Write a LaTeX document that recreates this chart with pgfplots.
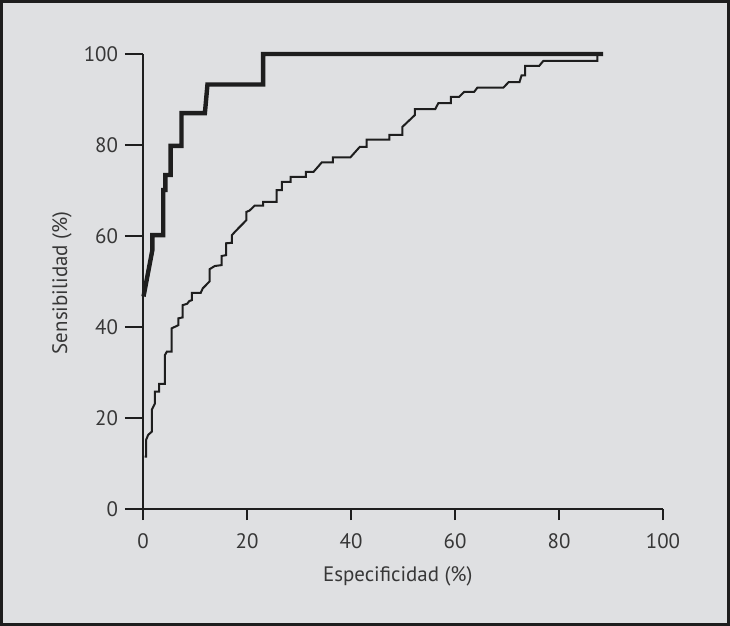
\documentclass[border=0pt]{standalone}
\usepackage{pgfplots}
\pgfplotsset{compat=1.18}
\usepackage{fontspec}
\setmainfont{PT Sans}
\definecolor{bgc}{RGB}{223,224,226}
\definecolor{ink}{RGB}{30,30,30}
\definecolor{txt}{RGB}{55,55,55}

\begin{document}
\begin{tikzpicture}
\useasboundingbox (0,0) rectangle (365bp,313bp);
\fill[bgc] (0,0) rectangle (365bp,313bp);
\draw[ink, line width=1.5bp] (0.75bp,0.75bp) rectangle (364.25bp,312.25bp);
\begin{axis}[
    at={(71.5bp,58.5bp)}, anchor=south west,
    scale only axis, width=260bp, height=227.5bp,
    xmin=0, xmax=100, ymin=0, ymax=100,
    axis lines=left, axis line style={-, ink, line width=1bp},
    xtick={0,20,...,100}, ytick={0,20,...,100},
    tick align=outside, major tick length=9bp,
    x tick style={/pgfplots/major tick length=5.5bp},
    tick style={ink, line width=1bp},
    font=\fontsize{10.5}{12}\selectfont,
    tick label style={text=txt, font=\fontsize{10.5}{12}\selectfont},
    /pgf/number format/assume math mode=true,
    xlabel={Especificidad (\%)}, ylabel={Sensibilidad (\%)},
    x label style={at={(axis description cs:0.49,-0.147)}, anchor=center, text=txt},
    y label style={at={(axis description cs:-0.156,0.497)}, anchor=center, text=txt},
    clip=false,
]
% curva fina
\addplot[ink, line width=1bp, line join=miter] coordinates {
 (0.3,11.5) (0.6,11.5) (0.6,15.2) (1.0,16.3) (1.7,17.0) (1.7,21.8) (2.0,22.5) (2.3,23.2)
 (2.3,25.8) (3.1,25.8) (3.1,27.5) (4.2,27.5) (4.2,33.8) (4.6,34.6) (5.5,34.6) (5.5,39.7)
 (6.8,40.4) (6.8,41.9) (7.6,42.1) (7.6,44.8) (8.5,45.1) (8.9,45.7) (9.4,45.9) (9.4,47.5)
 (11.1,47.5) (11.5,48.5) (12.8,50.0) (12.8,52.7) (13.8,53.4) (15.1,53.6) (15.1,55.6)
 (16.0,55.8) (16.0,58.4) (17.1,58.5) (17.1,60.2) (18.0,61.3) (19.9,63.5) (19.9,65.3)
 (20.5,65.6) (21.5,66.7) (23.1,66.7) (23.1,67.5) (25.7,67.5) (25.7,70.1) (26.7,70.1)
 (26.7,71.9) (28.4,71.9) (28.4,73.0) (31.3,73.0) (31.3,74.1) (32.8,74.1) (34.4,76.2)
 (36.5,76.2) (36.5,77.3) (39.9,77.3) (41.7,79.6) (43.0,79.6) (43.0,81.2) (47.4,81.2)
 (47.4,82.2) (49.9,82.2) (49.9,84.0) (52.3,86.6) (52.3,87.9) (56.2,87.9) (56.8,89.2)
 (59.2,89.2) (59.2,90.6) (60.8,90.6) (61.8,91.7) (63.7,91.7) (64.3,92.6) (69.3,92.6)
 (70.3,93.8) (72.4,93.8) (72.8,95.3) (73.5,95.3) (73.5,97.4) (76.2,97.4) (77.0,98.5)
 (87.4,98.5) (87.4,100)
};
% curva gruesa
\addplot[ink, line width=2.2bp, line join=miter] coordinates {
 (0.1,46.7) (1.8,56.9) (1.8,60.2) (3.9,60.2) (3.9,70.1) (4.3,70.1) (4.3,73.4) (5.3,73.4)
 (5.3,79.8) (7.4,79.8) (7.4,87.0) (11.9,87.0) (12.4,93.3) (23.1,93.3) (23.1,100) (88.5,100)
};
\end{axis}
\end{tikzpicture}
\end{document}
